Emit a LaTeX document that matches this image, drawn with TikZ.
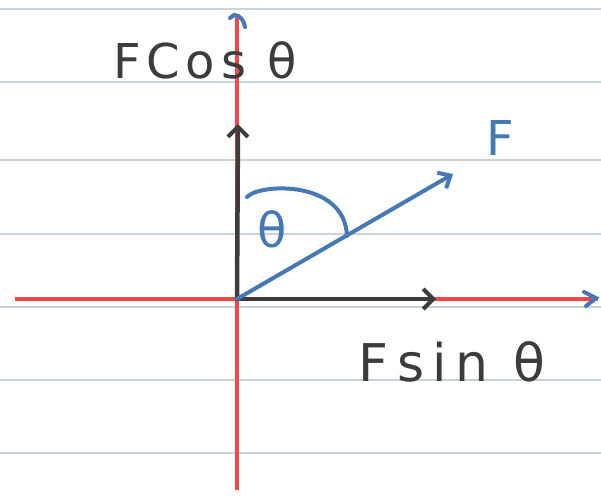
\documentclass[tikz,border=0pt]{standalone}
\usepackage{fontspec}
\setmainfont{DejaVu Sans}[LetterSpace=12]
\usetikzlibrary{arrows.meta}
\definecolor{penblue}{RGB}{70,120,180}
\definecolor{penred}{RGB}{245,70,70}
\definecolor{penblack}{RGB}{60,60,60}
\definecolor{ruled}{RGB}{200,212,218}
\tikzset{
  ruling/.style={draw=ruled, line width=1.5pt},
  axisline/.style={draw=penred, line width=4pt},
  vecblack/.style={draw=penblack, line width=4.5pt, line cap=round, -{Straight Barb[length=10pt,width=20pt,line width=4pt]}},
  vecblue/.style={draw=penblue, line width=4pt, line cap=round, -{Straight Barb[length=10pt,width=18pt,line width=4pt]}},
  hand/.style={font=\fontsize{48}{48}\selectfont, inner sep=0pt},
}
\begin{document}
\begin{tikzpicture}[x=1pt,y=-1pt]
\fill[white] (0,0) rectangle (601,495);
\useasboundingbox (0,0) rectangle (601,495);
% ruled lines
\foreach \yy in {9,82,160,234,307,380,453} \draw[ruling] (0,\yy) -- (601,\yy);
% axes
\coordinate (O) at (237,299);
\coordinate (ytop) at (237,15);
\coordinate (ybot) at (237,490);
\coordinate (xl) at (15,299);
\coordinate (xr) at (598,299);
\draw[axisline] (ybot) -- (ytop);
\draw[axisline] (xl) -- (xr);
\draw[penblue, line width=4pt, line cap=round] (230,18) -- (234,15) to[out=0,in=100] (245,27);
\draw[penblue, line width=4pt, line cap=round] (584,292) -- (596,298) -- (586,306);
% component vectors
\coordinate (Ytip) at (238,124);
\coordinate (Xtip) at (436,299);
\coordinate (Ftip) at (453,174);
\draw[vecblack] (O) -- (Ytip);
\draw[vecblack] (O) -- (Xtip);
\draw[vecblue] (O) -- (Ftip);
% angle arc
\draw[penblue, line width=4pt, line cap=round] (247,197) .. controls (260,183) and (345,180) .. (347,236);
% labels
\node[hand, text=penblue] (theta) at (272,229) {θ};
\node[hand, text=penblue] (F) at (500,138) {F};
\node[hand, text=penblack] (fcos) at (205,60) {FCos θ};
\node[hand, text=penblack, font=\fontsize{52}{52}\selectfont\addfontfeature{LetterSpace=16}] (fsin) at (452,362) {Fsin θ};
\end{tikzpicture}
\end{document}
